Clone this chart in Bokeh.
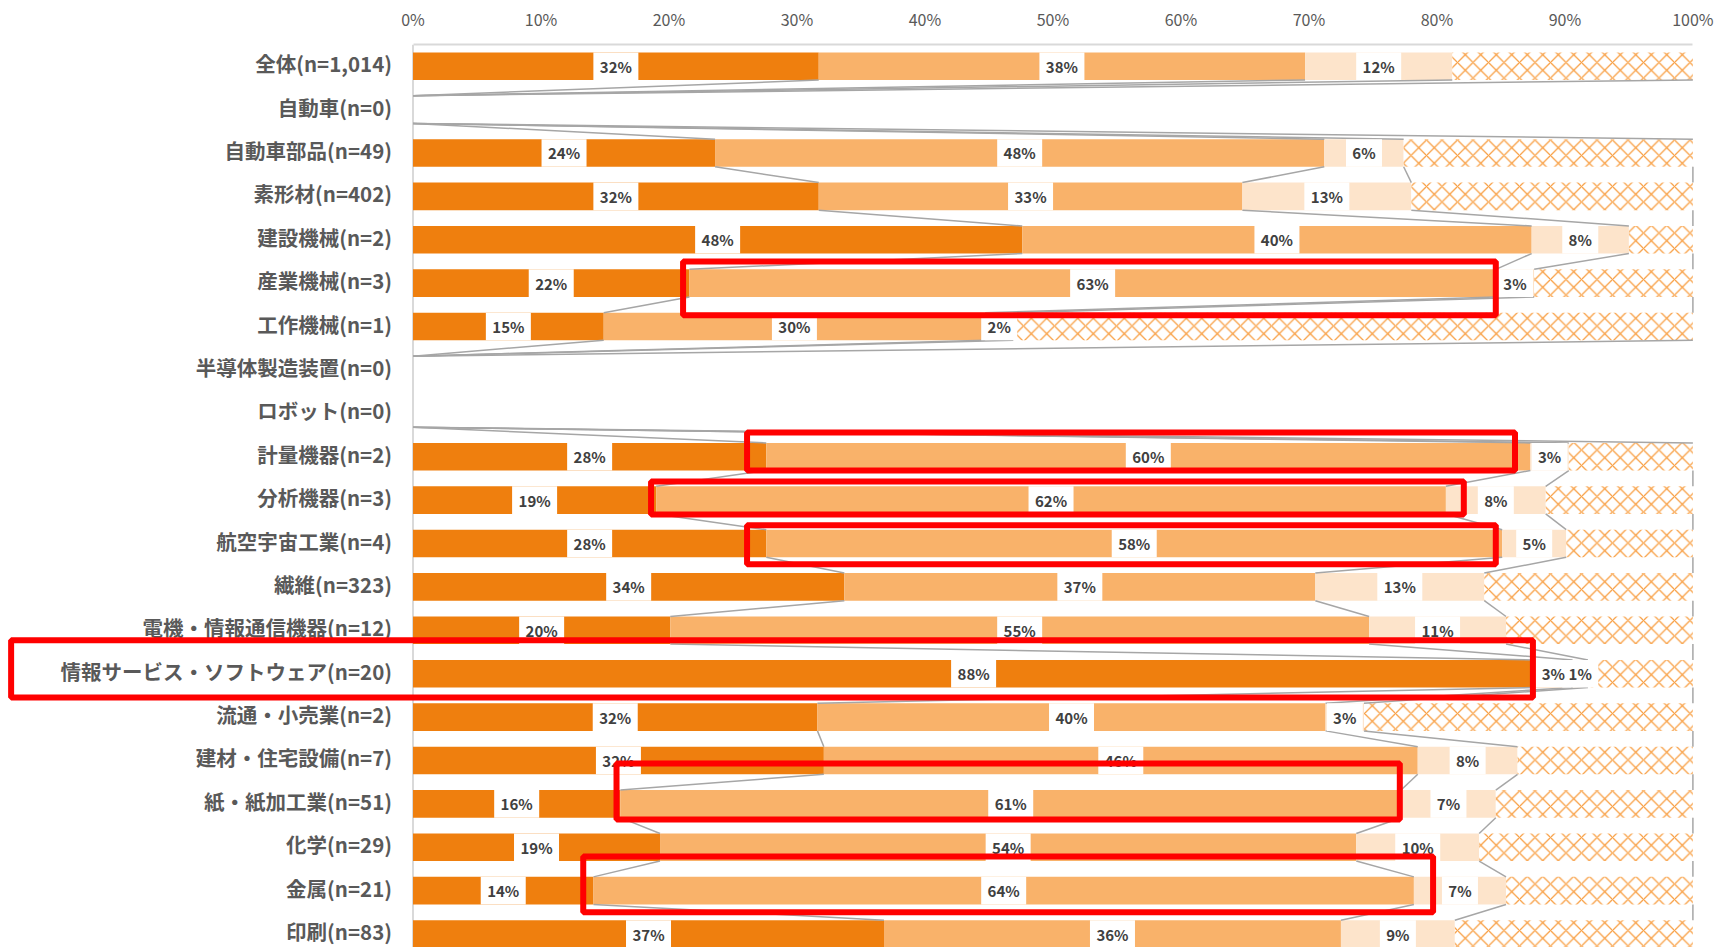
import numpy as np
from bokeh.plotting import figure
from bokeh.models import Range1d, FixedTicker, ColumnDataSource
from bokeh.core.properties import value
from bokeh.embed import file_html
from bokeh.resources import INLINE

# ---------------- data ----------------
categories = [
    "全体(n=1,014)", "自動車(n=0)", "自動車部品(n=49)", "素形材(n=402)",
    "建設機械(n=2)", "産業機械(n=3)", "工作機械(n=1)", "半導体製造装置(n=0)",
    "ロボット(n=0)", "計量機器(n=2)", "分析機器(n=3)", "航空宇宙工業(n=4)",
    "繊維(n=323)", "電機・情報通信機器(n=12)", "情報サービス・ソフトウェア(n=20)",
    "流通・小売業(n=2)", "建材・住宅設備(n=7)", "紙・紙加工業(n=51)",
    "化学(n=29)", "金属(n=21)", "印刷(n=83)",
]
series1 = [31.7, 0, 23.6, 31.7, 47.6, 21.6, 14.9, 0, 0, 27.6, 19.0, 27.6, 33.7, 20.1, 87.6, 31.6, 32.1, 16.2, 19.3, 14.1, 36.8]
series2 = [38.0, 0, 47.6, 33.1, 39.8, 63.0, 29.8, 0, 0, 59.7, 61.7, 57.5, 36.8, 54.6, 3.0, 39.7, 46.4, 61.0, 54.4, 64.1, 35.7]
series3 = [11.5, 0, 6.2, 13.2, 7.6, 3.0, 2.2, 0, 0, 3.0, 7.8, 5.0, 13.2, 10.7, 1.2, 3.0, 7.8, 7.4, 9.6, 7.2, 8.9]
series4 = [18.8, 0, 22.6, 22.0, 5.0, 12.4, 53.1, 0, 0, 9.7, 11.5, 9.9, 16.3, 14.6, 8.2, 25.7, 13.7, 15.4, 16.7, 14.6, 18.6]

tick_values = [0, 10, 20, 30, 40, 50, 60, 70, 80, 90, 100]
tick_labels = ["0%", "10%", "20%", "30%", "40%", "50%", "60%", "70%", "80%", "90%", "100%"]

# highlight boxes (left %, right %, top row, bottom row)
hl_left = [21.1, 26.1, 18.6, 26.1, -31.4, 15.9, 13.3]
hl_right = [84.6, 86.1, 82.1, 84.6, 87.5, 77.1, 79.7]
hl_top = [4.50, 8.44, 9.57, 10.58, 13.23, 16.07, 18.21]
hl_bottom = [5.74, 9.32, 10.33, 11.48, 14.55, 17.36, 19.50]

# ---------------- styling ----------------
C1, C2, C3, CH = "#EF7F0E", "#F9B26A", "#FDE4CB", "#F8A045"
BAR_H = 0.636
FONT = "Noto Sans CJK JP"

n = len(categories)
rows = np.arange(n)
S = np.array([series1, series2, series3, series4], dtype=float)
cum = np.cumsum(S, axis=0)
starts = np.vstack([np.zeros(n), cum[:-1]])

p = figure(width=1718, height=947,
           x_range=Range1d(-32.23, 102.0), y_range=Range1d(20.31, -0.5),
           x_axis_location="above", y_axis_location=None,
           output_backend="svg", toolbar_location=None,
           min_border_left=0, min_border_right=0, min_border_top=44, min_border_bottom=0)
p.outline_line_color = None
p.xgrid.visible = False
p.ygrid.visible = False

ax = p.xaxis[0]
ax.ticker = FixedTicker(ticks=tick_values)
ax.major_label_overrides = {v: l for v, l in zip(tick_values, tick_labels)}
ax.bounds = (0, 100)
ax.axis_line_color = "#D9D9D9"
ax.axis_line_width = 2
ax.major_tick_line_color = None
ax.minor_tick_line_color = None
ax.major_tick_out = 0
ax.major_tick_in = 0
ax.major_label_standoff = 14
ax.major_label_text_font = FONT
ax.major_label_text_font_size = "16px"
ax.major_label_text_color = "#595959"

# vertical axis line at 0%
p.segment(x0=[0], y0=[-0.5], x1=[0], y1=[20.31], line_color="#D9D9D9", line_width=2)

# bars
colors = [C1, C2, C3]
for k in range(3):
    p.hbar(y=rows, left=starts[k], right=cum[k], height=BAR_H,
           fill_color=colors[k], line_color=None)
p.hbar(y=rows, left=starts[3], right=cum[3], height=BAR_H,
       fill_color="white", line_color=None,
       hatch_pattern="diagonal_cross", hatch_color=CH,
       hatch_scale=15.5, hatch_weight=1.3)

# series lines
x0s, y0s, x1s, y1s = [], [], [], []
for i in range(n - 1):
    for k in range(4):
        a, b = cum[k][i], cum[k][i + 1]
        if a == 0 and b == 0:
            continue
        x0s.append(a); y0s.append(rows[i] + BAR_H / 2)
        x1s.append(b); y1s.append(rows[i + 1] - BAR_H / 2)
p.segment(x0=x0s, y0=y0s, x1=x1s, y1=y1s, line_color="#A6A6A6", line_width=1.5)

# data labels
lx, ly, lt, lw = [], [], [], []
for k in range(3):
    for i in range(n):
        v = S[k][i]
        if v <= 0:
            continue
        txt = "%d%%" % int(v + 0.5)
        lx.append((starts[k][i] + cum[k][i]) / 2)
        ly.append(rows[i])
        lt.append(txt)
        lw.append(9 * len(txt) + 18)
src = ColumnDataSource(dict(x=lx, y=ly, t=lt, w=lw))
p.rect(x="x", y="y", width="w", height=BAR_H, width_units="screen", source=src,
       fill_color="white", line_color=None)
p.text(x="x", y="y", text="t", source=src, text_align="center", text_baseline="middle",
       text_font=value(FONT), text_font_style="bold", text_font_size="15px",
       text_color="#404040")

# category labels
p.text(x=[0] * n, y=rows, text=categories, x_offset=-21, y_offset=-3, text_align="right",
       text_baseline="middle", text_font=value(FONT), text_font_style="bold",
       text_font_size="20.5px", text_color="#595959")

# highlight boxes
p.quad(left=hl_left, right=hl_right, top=hl_top, bottom=hl_bottom,
       fill_color=None, line_color="#FF0000", line_width=6)

open("out.html", "w").write(file_html(p, INLINE))
